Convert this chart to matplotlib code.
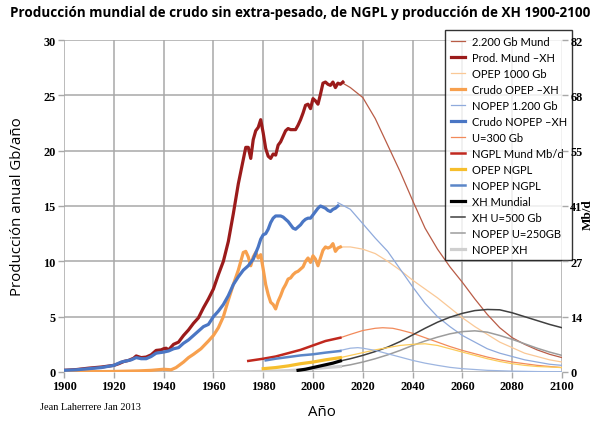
import matplotlib
matplotlib.use("Agg")
import matplotlib.pyplot as plt
from matplotlib.font_manager import FontProperties

# ---------------- data (Gb/año) ----------------
prod_years = [1900,1905,1910,1915,1920,1922,1924,1926,1928,1929,1931,1933,1935,1937,1939,1940,1941,1942,1944,1946,1948,1950,1952,1954,1956,1958,1960,1962,1964,1966,1968,1970,1972,1973,1974,1975,1976,1977,1978,1979,1980,1981,1982,1983,1984,1985,1986,1987,1988,1989,1990,1991,1992,1993,1994,1995,1996,1997,1998,1999,2000,2001,2002,2003,2004,2005,2006,2007,2008,2009,2010,2011,2012]
prod_vals = [0.15,0.22,0.35,0.45,0.6,0.75,0.95,1.05,1.25,1.45,1.3,1.35,1.55,1.95,2.0,2.1,2.15,2.0,2.5,2.7,3.3,3.8,4.4,4.9,5.8,6.6,7.5,8.8,10.0,11.8,14.3,17.0,19.2,20.3,20.3,19.3,21.0,21.8,22.1,22.8,21.6,20.2,19.5,19.3,19.7,19.6,20.5,20.8,21.3,21.8,22.0,21.9,21.9,21.9,22.3,22.8,23.4,24.1,24.2,23.8,24.7,24.5,24.2,25.1,26.1,26.2,26.0,25.9,26.2,25.7,26.1,26.0,26.2]

mund_fc_years = [2012,2015,2020,2025,2030,2035,2040,2045,2050,2055,2060,2065,2070,2075,2080,2085,2090,2095,2100]
mund_fc_vals = [26.1,25.7,24.8,22.9,20.5,18.1,15.5,13.0,11.1,9.5,8.1,6.6,5.2,4.0,3.1,2.5,2.0,1.6,1.3]

opep_years = [1900,1910,1920,1930,1935,1940,1943,1945,1948,1950,1952,1955,1958,1960,1962,1964,1966,1968,1970,1971,1972,1973,1974,1975,1976,1977,1978,1979,1980,1981,1982,1983,1984,1985,1986,1987,1988,1989,1990,1991,1992,1993,1994,1995,1996,1997,1998,1999,2000,2001,2002,2003,2004,2005,2006,2007,2008,2009,2010,2011]
opep_vals = [0.02,0.03,0.05,0.1,0.15,0.25,0.2,0.4,0.9,1.3,1.6,2.1,2.8,3.3,4.0,5.0,6.5,7.9,9.2,10.0,10.8,10.9,10.4,9.6,10.4,10.8,10.3,10.6,9.3,7.9,7.0,6.3,6.1,5.7,6.4,6.9,7.5,7.9,8.4,8.5,8.8,9.0,9.1,9.3,9.5,10.0,10.3,9.9,10.5,10.2,9.6,10.3,11.0,11.3,11.2,11.3,11.6,10.9,11.2,11.3]

opep_fc_years = [2011,2015,2020,2025,2030,2035,2040,2045,2050,2055,2060,2065,2070,2075,2080,2085,2090,2095,2100]
opep_fc_vals = [11.3,11.3,11.1,10.7,10.0,9.2,8.3,7.5,6.7,5.8,4.9,4.1,3.4,2.7,2.2,1.7,1.4,1.1,0.9]

nopep_years = [1900,1905,1910,1915,1920,1923,1925,1927,1929,1931,1933,1935,1937,1940,1942,1944,1946,1948,1950,1952,1954,1956,1958,1960,1962,1964,1966,1968,1970,1972,1974,1976,1978,1979,1980,1981,1982,1983,1984,1985,1986,1987,1988,1989,1990,1991,1992,1993,1994,1995,1996,1997,1998,1999,2000,2001,2002,2003,2004,2005,2006,2007,2008,2009,2010]
nopep_vals = [0.15,0.2,0.3,0.4,0.6,0.9,1.0,1.1,1.3,1.2,1.2,1.4,1.7,1.8,1.9,2.1,2.2,2.6,2.9,3.3,3.7,4.1,4.3,5.0,5.5,6.1,6.9,7.9,8.6,9.2,9.6,10.2,11.3,12.0,12.4,12.5,12.9,13.5,13.9,14.1,14.1,14.1,14.0,13.8,13.6,13.3,13.0,12.9,13.1,13.3,13.6,13.8,13.9,13.9,14.2,14.5,14.8,15.0,14.9,14.8,14.6,14.5,14.7,14.8,15.0]

nopep_fc_years = [2010,2015,2020,2025,2030,2035,2040,2045,2050,2055,2060,2065,2070,2075,2080,2085,2090,2095,2100]
nopep_fc_vals = [15.3,14.7,13.4,12.1,10.9,9.3,7.7,6.2,5.0,4.1,3.3,2.7,2.1,1.7,1.4,1.1,0.9,0.7,0.6]

ngpl_years = [1974,1977,1980,1985,1990,1995,2000,2005,2011]
ngpl_vals = [1.0,1.1,1.2,1.4,1.7,2.0,2.4,2.8,3.1]

ngpl_fc_years = [2011,2015,2020,2025,2028,2032,2035,2040,2045,2050,2055,2060,2065,2070,2075,2080,2085,2090,2095,2100]
ngpl_fc_vals = [3.1,3.4,3.75,3.95,4.0,3.95,3.8,3.5,3.1,2.7,2.3,1.95,1.65,1.35,1.1,0.9,0.75,0.6,0.5,0.4]

opep_ngpl_years = [1980,1985,1990,1995,2000,2005,2011]
opep_ngpl_vals = [0.3,0.4,0.55,0.75,0.9,1.1,1.3]

opep_ngpl_fc_years = [2011,2015,2020,2025,2030,2035,2040,2045,2050,2055,2060,2065,2070,2075,2080,2085,2090,2095,2100]
opep_ngpl_fc_vals = [1.3,1.5,1.75,2.0,2.2,2.4,2.5,2.55,2.4,2.1,1.8,1.5,1.2,0.95,0.75,0.6,0.5,0.45,0.4]

nopep_ngpl_years = [1981,1985,1990,1995,2000,2005,2011]
nopep_ngpl_vals = [1.05,1.2,1.35,1.5,1.6,1.75,1.9]

nopep_ngpl_fc_years = [2011,2015,2018,2020,2025,2030,2035,2040,2045,2050,2055,2060,2070,2080,2090,2100]
nopep_ngpl_fc_vals = [1.95,2.15,2.2,2.15,1.95,1.65,1.35,1.05,0.8,0.6,0.42,0.3,0.15,0.08,0.04,0.02]

xh_years = [1994,1997,2000,2003,2005,2008,2011]
xh_vals = [0.15,0.25,0.4,0.55,0.65,0.8,1.0]

xh_fc_years = [2011,2015,2020,2025,2030,2035,2040,2045,2050,2055,2060,2065,2070,2075,2080,2085,2090,2095,2100]
xh_fc_vals = [1.0,1.2,1.5,1.85,2.25,2.75,3.35,3.95,4.5,4.95,5.3,5.55,5.65,5.62,5.35,5.0,4.65,4.3,4.0]

nopep_xh_years = [1967,1975,1980,1985,1990,1995,2000,2005,2011]
nopep_xh_vals = [0.02,0.03,0.05,0.08,0.12,0.2,0.3,0.4,0.5]

nopep_xh_fc_years = [2011,2015,2020,2025,2030,2035,2040,2045,2050,2055,2060,2065,2070,2075,2080,2085,2090,2095,2100]
nopep_xh_fc_vals = [0.5,0.65,0.9,1.2,1.55,1.95,2.4,2.8,3.15,3.45,3.65,3.72,3.6,3.3,2.95,2.55,2.15,1.8,1.5]

year_ticks = list(range(1900, 2101, 20))
left_ticks = [0, 5, 10, 15, 20, 25, 30]
right_labels = ["0", "14", "27", "41", "55", "68", "82"]

# ---------------- figure ----------------
fig = plt.figure(figsize=(6.01, 4.31), dpi=100)
ax = fig.add_axes([64/601, 1-373/431, (562-64)/601, (373-41)/431])

THK = 2.3
MED = 1.8
THN = 0.9

ax.plot(mund_fc_years, mund_fc_vals, color="#B95C46", lw=THN, label="2.200 Gb Mund", zorder=3)
ax.plot(prod_years, prod_vals, color="#9B1B1B", lw=THK, label="Prod. Mund \u2013XH", zorder=4)
ax.plot(opep_fc_years, opep_fc_vals, color="#FAC896", lw=THN, label="OPEP 1000 Gb", zorder=3)
ax.plot(opep_years, opep_vals, color="#F7A04E", lw=THK, label="Crudo OPEP \u2013XH", zorder=4)
ax.plot(nopep_fc_years, nopep_fc_vals, color="#8FAADC", lw=THN, label="NOPEP 1.200 Gb", zorder=3)
ax.plot(nopep_years, nopep_vals, color="#4A76C4", lw=THK, label="Crudo NOPEP \u2013XH", zorder=4)
ax.plot(ngpl_fc_years, ngpl_fc_vals, color="#F28A5A", lw=THN, label="U=300 Gb", zorder=3)
ax.plot(ngpl_years, ngpl_vals, color="#C0281E", lw=MED, label="NGPL Mund Mb/d", zorder=4)
ax.plot(opep_ngpl_years, opep_ngpl_vals, color="#F6BE2C", lw=THK, label="OPEP NGPL", zorder=4)
ax.plot(nopep_ngpl_years, nopep_ngpl_vals, color="#5B86C8", lw=MED, label="NOPEP NGPL", zorder=4)
ax.plot(xh_years, xh_vals, color="#000000", lw=THK, label="XH Mundial", zorder=5)
ax.plot(xh_fc_years, xh_fc_vals, color="#404040", lw=THN + 0.2, label="XH U=500 Gb", zorder=3)
ax.plot(nopep_xh_fc_years, nopep_xh_fc_vals, color="#9C9C9C", lw=THN + 0.2, label="NOPEP U=250GB", zorder=3)
ax.plot(nopep_xh_years, nopep_xh_vals, color="#CFCFCF", lw=THK, label="NOPEP XH", zorder=3.5)
# unlabelled NGPL forecasts
ax.plot(opep_ngpl_fc_years, opep_ngpl_fc_vals, color="#FCCB5A", lw=THN, zorder=3)
ax.plot(nopep_ngpl_fc_years, nopep_ngpl_fc_vals, color="#9DB5E0", lw=THN, zorder=3)

ax.set_xlim(1900, 2100)
ax.set_ylim(0, 30)
ax.set_xticks(year_ticks)
ax.set_yticks(left_ticks)
ax.grid(True, color="#A8A8A8", lw=1.1, zorder=0)
ax.set_axisbelow(True)
for s in ax.spines.values():
    s.set_visible(False)
tickfont = dict(family="Liberation Serif", weight="bold", size=8.8)
ax.tick_params(axis="both", length=4, width=1, color="#A8A8A8", pad=2)
for lab in ax.get_xticklabels() + ax.get_yticklabels():
    lab.set_fontproperties(FontProperties(**tickfont))

ax2 = ax.twinx()
ax2.set_ylim(0, 30)
ax2.set_yticks(left_ticks)
ax2.set_yticklabels(right_labels)
ax2.tick_params(axis="y", length=4, width=1, color="#A8A8A8", pad=2)
for lab in ax2.get_yticklabels():
    lab.set_fontproperties(FontProperties(**tickfont))
for s in ax2.spines.values():
    s.set_visible(False)

# labels
title = fig.text(0.5, 1-13/431, "Producción mundial de crudo sin extra-pesado, de NGPL y producción de XH 1900-2100",
                 ha="center", va="center", fontsize=10.5, fontweight="bold", family="Open Sans")
fig.text(18/601, 1-207/431, "Producción anual Gb/año", rotation=90, ha="center", va="center",
         fontsize=10.8, family="Open Sans")
fig.text(322/601, 1-413/431, "Año", ha="center", va="center", fontsize=10.8, family="Open Sans")
fig.text(588/601, 1-215/431, "Mb/d", rotation=90, ha="center", va="center",
         fontsize=9.5, fontweight="bold", family="Liberation Serif")
fig.text(40/601, 1-408/431, "Jean Laherrere Jan 2013", ha="left", va="center",
         fontsize=7.5, family="Liberation Serif")

leg = ax.legend(loc="upper left", bbox_to_anchor=(445/601, 1-31/431), bbox_transform=fig.transFigure,
                borderaxespad=0, frameon=True, fancybox=False, handlelength=1.3, handletextpad=0.6,
                labelspacing=0.45, borderpad=0.5, prop=dict(family="Lato", size=8.0))
leg.get_frame().set_edgecolor("#000000")
leg.get_frame().set_linewidth(1.0)
leg.set_zorder(10)

# fit title width to ~582 px
fig.canvas.draw()
w = title.get_window_extent(renderer=fig.canvas.get_renderer()).width
title.set_fontsize(10.5 * 582.0 / w)

fig.savefig("out.png", dpi=100)
